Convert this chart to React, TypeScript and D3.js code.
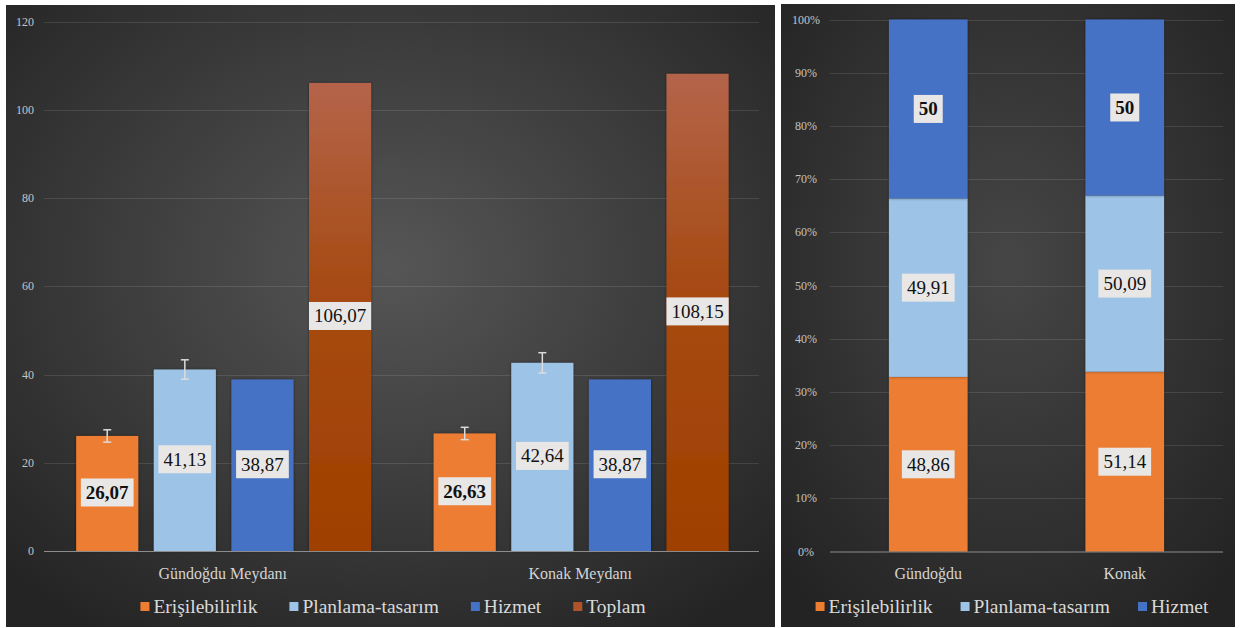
import React, { useEffect, useRef } from 'react';
import * as d3 from 'd3';

const categories = ['Gündoğdu Meydanı', 'Konak Meydanı'];
const seriesNames = ['Erişilebilirlik', 'Planlama-tasarım', 'Hizmet', 'Toplam'];
const erisilebilirlik = [26.07, 26.63];
const planlama = [41.13, 42.64];
const hizmet = [38.87, 38.87];
const toplam = [106.07, 108.15];
const errErisilebilirlik = [1.4, 1.4];
const errPlanlama = [2.2, 2.3];
const leftTicks = [0, 20, 40, 60, 80, 100, 120];
const leftBold = [true, false, false, false];

const rightCategories = ['Gündoğdu', 'Konak'];
const rightSeries = ['Erişilebilirlik', 'Planlama-tasarım', 'Hizmet'];
const rightErisilebilirlik = [48.86, 51.14];
const rightPlanlama = [49.91, 50.09];
const rightHizmet = [50, 50];
const rightTicks = [0, 0.1, 0.2, 0.3, 0.4, 0.5, 0.6, 0.7, 0.8, 0.9, 1];
const rightBold = [false, false, true];

const colors = ['#ed7d31', '#9dc3e6', '#4472c4', 'url(#toplamGrad)'];
const legendColors = ['#ed7d31', '#9dc3e6', '#4472c4', '#b0532a'];
const FONT = "'Liberation Serif'";

const fmt = (v: number) => (Number.isInteger(v) ? String(v) : v.toFixed(2).replace('.', ','));

export default function App() {
  const ref = useRef<SVGSVGElement | null>(null);

  useEffect(() => {
    const svg = d3.select(ref.current);
    svg.selectAll('*').remove();
    const defs = svg.append('defs');

    const rg1 = defs.append('radialGradient').attr('id', 'bgL').attr('cx', '50%').attr('cy', '42%').attr('r', '70%');
    rg1.append('stop').attr('offset', '0%').attr('stop-color', '#565656');
    rg1.append('stop').attr('offset', '100%').attr('stop-color', '#242424');
    const rg2 = defs.append('radialGradient').attr('id', 'bgR').attr('cx', '50%').attr('cy', '42%').attr('r', '70%');
    rg2.append('stop').attr('offset', '0%').attr('stop-color', '#464646');
    rg2.append('stop').attr('offset', '100%').attr('stop-color', '#232323');
    const tg = defs.append('linearGradient').attr('id', 'toplamGrad').attr('x1', 0).attr('y1', 0).attr('x2', 0).attr('y2', 1);
    tg.append('stop').attr('offset', '0%').attr('stop-color', '#b4644a');
    tg.append('stop').attr('offset', '45%').attr('stop-color', '#a64a12');
    tg.append('stop').attr('offset', '100%').attr('stop-color', '#a04000');
    const sh = defs.append('filter').attr('id', 'shadow').attr('x', '-20%').attr('y', '-20%').attr('width', '140%').attr('height', '140%');
    sh.append('feDropShadow').attr('dx', 0).attr('dy', 0).attr('stdDeviation', 1.5).attr('flood-color', '#000').attr('flood-opacity', 0.45);

    svg.append('rect').attr('x', 6).attr('y', 5).attr('width', 769).attr('height', 622).attr('fill', 'url(#bgL)');
    svg.append('rect').attr('x', 781).attr('y', 4).attr('width', 454).attr('height', 623).attr('fill', 'url(#bgR)');

    const label = (g: any, cx: number, cy: number, text: string, bold: boolean) => {
      const grp = g.append('g');
      const rect = grp.append('rect').attr('fill', '#e8e7e6');
      const t = grp
        .append('text')
        .attr('x', cx)
        .attr('y', cy + 6.5)
        .attr('text-anchor', 'middle')
        .style('font-family', FONT)
        .attr('font-size', 19)
        .attr('font-weight', bold ? 'bold' : 'normal')
        .attr('fill', '#111')
        .text(text);
      const w = (t.node() as SVGTextElement).getComputedTextLength();
      rect.attr('x', cx - w / 2 - 5).attr('y', cy - 14).attr('width', w + 10).attr('height', 28);
    };

    // ---------- LEFT CHART ----------
    const yL = d3.scaleLinear().domain([0, 120]).range([551, 21.5]);
    const x0 = d3.scaleBand().domain(categories).range([44, 759]).padding(0);
    const bw0 = x0.bandwidth();
    const x1 = d3.scaleBand().domain(seriesNames).range([bw0 * 0.09, bw0 * 0.915]).paddingInner(0.2);
    const leftData = [erisilebilirlik, planlama, hizmet, toplam];
    const leftErr = [errErisilebilirlik, errPlanlama, null, null];

    const gL = svg.append('g');
    gL.selectAll('line.grid')
      .data(leftTicks.filter((t) => t !== 0))
      .join('line')
      .attr('x1', 44)
      .attr('x2', 759)
      .attr('y1', (d) => Math.round(yL(d)) + 0.5)
      .attr('y2', (d) => Math.round(yL(d)) + 0.5)
      .attr('stroke', 'rgba(255,255,255,0.11)')
      .attr('stroke-width', 1);
    gL.selectAll('text.tick')
      .data(leftTicks)
      .join('text')
      .attr('x', 34)
      .attr('y', (d) => yL(d) + 4)
      .attr('text-anchor', 'end')
      .style('font-family', FONT)
      .attr('font-size', 12)
      .attr('fill', '#c4c4c4')
      .text((d) => String(d));

    categories.forEach((cat, ci) => {
      seriesNames.forEach((s, si) => {
        const v = leftData[si][ci];
        const x = (x0(cat) as number) + (x1(s) as number);
        gL.append('rect')
          .attr('x', x)
          .attr('y', yL(v))
          .attr('width', x1.bandwidth())
          .attr('height', yL(0) - yL(v))
          .attr('fill', colors[si])
          .attr('filter', 'url(#shadow)');
      });
    });
    gL.append('line').attr('x1', 44).attr('x2', 759).attr('y1', 551.5).attr('y2', 551.5).attr('stroke', '#8c8c8c').attr('stroke-width', 1.2);

    categories.forEach((cat, ci) => {
      seriesNames.forEach((s, si) => {
        const e = leftErr[si];
        if (!e) return;
        const v = leftData[si][ci];
        const cx = (x0(cat) as number) + (x1(s) as number) + x1.bandwidth() / 2;
        const eg = gL.append('g').attr('stroke', '#dcdcdc').attr('stroke-width', 1.5);
        eg.append('line').attr('x1', cx).attr('x2', cx).attr('y1', yL(v + e[ci])).attr('y2', yL(v - e[ci]));
        eg.append('line').attr('x1', cx - 4).attr('x2', cx + 4).attr('y1', yL(v + e[ci])).attr('y2', yL(v + e[ci]));
        eg.append('line').attr('x1', cx - 4).attr('x2', cx + 4).attr('y1', yL(v - e[ci])).attr('y2', yL(v - e[ci]));
      });
    });

    categories.forEach((cat, ci) => {
      seriesNames.forEach((s, si) => {
        const v = leftData[si][ci];
        const cx = (x0(cat) as number) + (x1(s) as number) + x1.bandwidth() / 2;
        label(gL, cx, yL(v / 2) - 1, fmt(v), leftBold[si]);
      });
    });

    gL.selectAll('text.cat')
      .data(categories)
      .join('text')
      .attr('x', (d) => (x0(d) as number) + bw0 / 2)
      .attr('y', 579)
      .attr('text-anchor', 'middle')
      .style('font-family', FONT)
      .attr('font-size', 16)
      .attr('fill', '#d4d4d4')
      .text((d) => d);

    const legend = (g: any, names: string[], cols: string[], center: number, y: number, gap: number) => {
      const lg = g.append('g');
      let x = 0;
      names.forEach((n, i) => {
        lg.append('rect').attr('x', x).attr('y', y - 5).attr('width', 9).attr('height', 9).attr('fill', cols[i]);
        const t = lg
          .append('text')
          .attr('x', x + 13)
          .attr('y', y + 6)
          .style('font-family', FONT)
          .attr('font-size', 19.5)
          .attr('fill', '#d9d9d9')
          .text(n);
        const w = (t.node() as SVGTextElement).getComputedTextLength();
        x += 13 + w + (i < names.length - 1 ? gap : 0);
      });
      lg.attr('transform', `translate(${center - x / 2},0)`);
    };
    legend(gL, seriesNames, legendColors, 393, 607, 32);

    // ---------- RIGHT CHART ----------
    const yR = d3.scaleLinear().domain([0, 1]).range([551.7, 19.5]);
    const xR = d3.scaleBand().domain(rightCategories).range([830, 1223]).paddingInner(0.6).paddingOuter(0.3);
    const gR = svg.append('g');
    gR.selectAll('line.grid')
      .data(rightTicks.filter((t) => t !== 0))
      .join('line')
      .attr('x1', 830)
      .attr('x2', 1223)
      .attr('y1', (d) => Math.round(yR(d)) + 0.5)
      .attr('y2', (d) => Math.round(yR(d)) + 0.5)
      .attr('stroke', 'rgba(255,255,255,0.11)')
      .attr('stroke-width', 1);
    gR.selectAll('text.tick')
      .data(rightTicks)
      .join('text')
      .attr('x', 806)
      .attr('y', (d) => yR(d) + 4)
      .attr('text-anchor', 'middle')
      .style('font-family', FONT)
      .attr('font-size', 12)
      .attr('fill', '#c4c4c4')
      .text((d) => `${Math.round(d * 100)}%`);

    const rows = rightCategories.map((c, i) => ({
      cat: c,
      [rightSeries[0]]: rightErisilebilirlik[i],
      [rightSeries[1]]: rightPlanlama[i],
      [rightSeries[2]]: rightHizmet[i],
    }));
    const stacked = d3.stack<any>().keys(rightSeries).offset(d3.stackOffsetExpand)(rows);
    stacked.forEach((layer, si) => {
      layer.forEach((seg: any, ci: number) => {
        gR.append('rect')
          .attr('x', xR(rightCategories[ci]) as number)
          .attr('y', yR(seg[1]))
          .attr('width', xR.bandwidth())
          .attr('height', yR(seg[0]) - yR(seg[1]))
          .attr('fill', colors[si])
          .attr('filter', 'url(#shadow)');
      });
    });
    gR.append('line').attr('x1', 830).attr('x2', 1223).attr('y1', 552).attr('y2', 552).attr('stroke', '#8c8c8c').attr('stroke-width', 1.2);
    stacked.forEach((layer, si) => {
      layer.forEach((seg: any, ci: number) => {
        const cx = (xR(rightCategories[ci]) as number) + xR.bandwidth() / 2;
        const v = [rightErisilebilirlik, rightPlanlama, rightHizmet][si][ci];
        label(gR, cx, yR((seg[0] + seg[1]) / 2), fmt(v), rightBold[si]);
      });
    });
    gR.selectAll('text.cat')
      .data(rightCategories)
      .join('text')
      .attr('x', (d) => (xR(d) as number) + xR.bandwidth() / 2)
      .attr('y', 579)
      .attr('text-anchor', 'middle')
      .style('font-family', FONT)
      .attr('font-size', 16)
      .attr('fill', '#d4d4d4')
      .text((d) => d);
    legend(gR, rightSeries, legendColors, 1012, 607, 28);
  }, []);

  return (
    <svg
      ref={ref}
      width={1240}
      height={628}
      style={{ position: 'absolute', left: 0, top: 0, background: '#fff', display: 'block', fontFamily: "'Liberation Serif'" }}
    />
  );
}
